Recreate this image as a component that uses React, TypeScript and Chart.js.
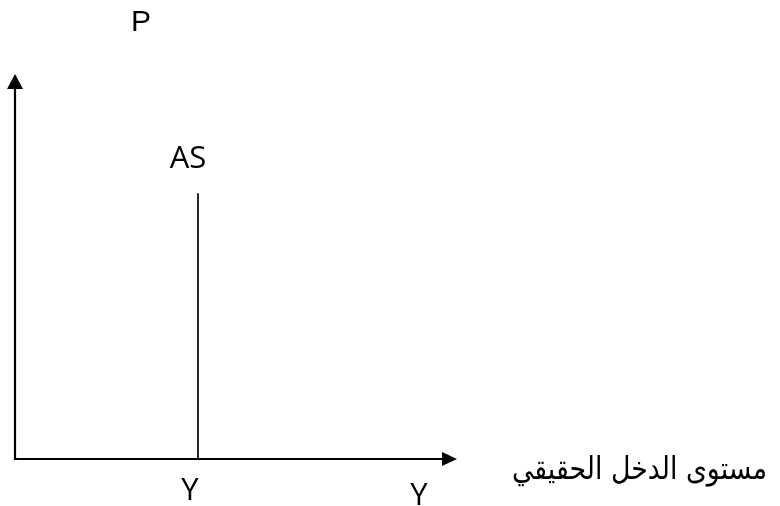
import React, { useEffect, useRef } from "react";
import { Chart, registerables } from "chart.js";

Chart.register(...registerables);

// Axis ranges (arbitrary units for price level and real output)
const xRange = [0, 100];
const yRange = [0, 100];

// Vertical aggregate supply curve at full-employment output
const asOutput = [41.4, 41.4];
const asPrice = [0, 69];

// Labels
const priceLabel = "P";
const supplyLabel = "AS";
const outputLabel = "Y";
const axisOutputLabel = "Y";
const incomeLabel = "مستوى الدخل الحقيقي";

const axesPlugin = {
  id: "econAxes",
  afterDatasetsDraw(chart: any) {
    const { ctx, scales } = chart;
    const xs = scales.x;
    const ys = scales.y;
    const x0 = xs.getPixelForValue(xRange[0]);
    const x1 = xs.getPixelForValue(xRange[1]);
    const y0 = ys.getPixelForValue(yRange[0]);
    const y1 = ys.getPixelForValue(yRange[1]);

    ctx.save();
    ctx.strokeStyle = "#000";
    ctx.fillStyle = "#000";
    ctx.lineWidth = 2.2;

    // vertical axis with arrow
    ctx.beginPath();
    ctx.moveTo(x0, y0 + 1);
    ctx.lineTo(x0, y1 + 12);
    ctx.stroke();
    ctx.beginPath();
    ctx.moveTo(x0, y1);
    ctx.lineTo(x0 - 8, y1 + 15);
    ctx.lineTo(x0 + 8, y1 + 15);
    ctx.closePath();
    ctx.fill();

    // horizontal axis with arrow
    ctx.beginPath();
    ctx.moveTo(x0 - 1, y0);
    ctx.lineTo(x1 - 12, y0);
    ctx.stroke();
    ctx.beginPath();
    ctx.moveTo(x1, y0);
    ctx.lineTo(x1 - 15, y0 - 7);
    ctx.lineTo(x1 - 15, y0 + 7);
    ctx.closePath();
    ctx.fill();

    // text labels
    const asX = xs.getPixelForValue(asOutput[0]);
    const asTop = ys.getPixelForValue(asPrice[1]);
    ctx.textBaseline = "alphabetic";
    ctx.textAlign = "center";

    ctx.font = "30px 'Liberation Sans', Arial, sans-serif";
    ctx.fillText(priceLabel, 141, 31);

    ctx.font = "31px 'Open Sans', sans-serif";
    ctx.fillText(supplyLabel, asX - 10, asTop - 25);
    ctx.fillText(outputLabel, asX - 8, y0 + 41);
    ctx.fillText(axisOutputLabel, x1 - 38, y0 + 46);

    // income caption, right-aligned and fitted to its slot
    ctx.font = "31px 'DejaVu Sans', sans-serif";
    ctx.direction = "rtl";
    ctx.textAlign = "right";
    const right = 767;
    const maxW = 255;
    const w = ctx.measureText(incomeLabel).width;
    const sx = w > maxW ? maxW / w : 1;
    ctx.translate(right, y0 + 20);
    ctx.scale(sx, 1);
    ctx.fillText(incomeLabel, 0, 0);
    ctx.restore();
  },
};

export default function App() {
  const canvasRef = useRef<HTMLCanvasElement>(null);

  useEffect(() => {
    document.body.style.margin = "0";
    const canvas = canvasRef.current;
    if (!canvas) return;
    const chart = new Chart(canvas, {
      type: "line",
      data: {
        datasets: [
          {
            label: supplyLabel,
            data: asOutput.map((x, i) => ({ x, y: asPrice[i] })),
            borderColor: "#000",
            borderWidth: 1.7,
            pointRadius: 0,
            fill: false,
            tension: 0,
          },
        ],
      },
      options: {
        animation: false,
        responsive: false,
        maintainAspectRatio: false,
        layout: { padding: { left: 15, right: 323, top: 74, bottom: 47 } },
        plugins: {
          legend: { display: false },
          tooltip: { enabled: false },
          title: { display: false },
        },
        scales: {
          x: { type: "linear", min: xRange[0], max: xRange[1], display: false },
          y: { type: "linear", min: yRange[0], max: yRange[1], display: false },
        },
      },
      plugins: [axesPlugin],
    });
    return () => chart.destroy();
  }, []);

  return (
    <div style={{ position: "absolute", left: 0, top: 0, width: 780, height: 506, background: "#fff" }}>
      <canvas ref={canvasRef} width={780} height={506} />
    </div>
  );
}
